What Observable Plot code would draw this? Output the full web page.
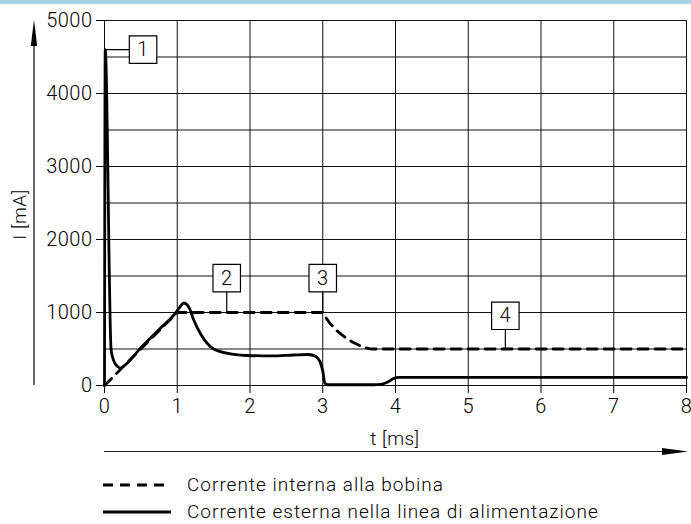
<!DOCTYPE html>
<html>
<head>
<meta charset="utf-8">
<script src="https://cdn.jsdelivr.net/npm/d3@7"></script>
<script src="https://cdn.jsdelivr.net/npm/@observablehq/plot@0.6"></script>
<style>
  html, body { margin: 0; padding: 0; background: white; }
  body { width: 691px; height: 524px; position: relative; overflow: hidden;
         font-family: Roboto, "DejaVu Sans", sans-serif; font-weight: 300; }
  #bar { height: 4px; background: #a9d3e6; }
  #legend { position: absolute; left: 103px; top: 471px; font-size: 19px; letter-spacing: 1px; color: #000; }
  .row { height: 27px; display: flex; align-items: center; }
  .row svg { margin-right: 16px; }
</style>
</head>
<body>
<div id="bar"></div>
<div id="chart"></div>
<div id="legend"></div>
<script>
// ---- data ----
const xTicks = [0, 1, 2, 3, 4, 5, 6, 7, 8];
const yTicks = [0, 1000, 2000, 3000, 4000, 5000];
const yGrid = [0, 500, 1000, 1500, 2000, 2500, 3000, 3500, 4000, 4500, 5000];

// dashed: internal coil current
const tInternal = [0, 1.0, 3.0, 3.05, 3.1, 3.2, 3.3, 3.4, 3.5, 3.6, 3.66, 8];
const iInternal = [0, 1000, 1000, 920, 850, 745, 665, 600, 550, 515, 500, 500];

// solid: external supply-line current
const tExternal = [0, 0.01, 0.09, 0.11, 0.14, 0.18, 0.22, 0.26, 0.5, 0.75, 0.98, 1.04, 1.09, 1.16, 1.23, 1.32, 1.5, 1.73, 1.98, 2.3, 2.6, 2.8, 2.9, 2.96, 3.0, 3.03, 3.07, 3.7, 3.8, 3.9, 3.97, 4.05, 8];
const iExternal = [0, 4600, 500, 390, 310, 260, 238, 262, 517, 767, 997, 1080, 1130, 1073, 890, 708, 500, 434, 411, 405, 418, 425, 400, 330, 200, 30, 10, 10, 15, 50, 95, 110, 110];

// callouts
const calloutLabels = ["1", "2", "3", "4"];
const calloutT = [0.53, 1.68, 3.0, 5.51];
const calloutI = [4600, 1470, 1470, 955];
const anchorT = [0.01, 1.68, 3.0, 5.51];
const anchorI = [4600, 1000, 1000, 500];

const seriesNames = ["Corrente interna alla bobina", "Corrente esterna nella linea di alimentazione"];
const xLabel = "t [ms]";
const yLabel = "I [mA]";

// ---- tables ----
const internal = tInternal.map((t, k) => ({t, i: iInternal[k]}));
const external = tExternal.map((t, k) => ({t, i: iExternal[k]}));
const callouts = calloutLabels.map((label, k) => ({label, t: calloutT[k], i: calloutI[k], at: anchorT[k], ai: anchorI[k]}));

const FONT = 'Roboto, "DejaVu Sans", sans-serif';

const plot = Plot.plot({
  width: 691,
  height: 456,
  marginTop: 16,
  marginBottom: 75,
  marginLeft: 104,
  marginRight: 5,
  style: {fontFamily: FONT, fontSize: "20px", fontWeight: 300, letterSpacing: "0.5px", background: "white", color: "black", overflow: "visible"},
  x: {domain: [0, 8]},
  y: {domain: [0, 5000]},
  marks: [
    Plot.gridX(xTicks, {stroke: "#111", strokeOpacity: 1, strokeWidth: 1}),
    Plot.gridY(yGrid, {stroke: "#111", strokeOpacity: 1, strokeWidth: 1}),
    Plot.axisX(xTicks, {tickSize: 8, tickPadding: 5, label: null, tickFormat: d => String(d), stroke: "#000"}),
    Plot.axisY(yTicks, {tickSize: 8, tickPadding: 4, label: null, tickFormat: d => String(d), stroke: "#000"}),
    Plot.line(internal, {x: "t", y: "i", stroke: "#000", strokeWidth: 2.8, strokeDasharray: "10,7"}),
    Plot.line(external, {x: "t", y: "i", stroke: "#000", strokeWidth: 2.8, curve: "monotone-x"}),
    Plot.link(callouts, {x1: "at", y1: "ai", x2: "t", y2: "i", stroke: "#000", strokeWidth: 1.2}),
    Plot.dot(callouts, {x: "t", y: "i", symbol: "square", r: 15.5, fill: "white", stroke: "#000", strokeWidth: 1.2}),
    Plot.text(callouts, {x: "t", y: "i", text: "label", fontSize: 20, fill: "#000"})
  ]
});
document.getElementById("chart").appendChild(plot);

// ---- axis arrows & labels (decorations positioned from the scales) ----
const sx = plot.scale("x"), sy = plot.scale("y");
const svg = d3.select(plot);
const x0 = sx.apply(0), x8 = sx.apply(8);
const y0 = sy.apply(0), y5 = sy.apply(5000);
const g = svg.append("g");
// y arrow
const ax = 34;
g.append("line").attr("x1", ax).attr("x2", ax).attr("y1", y0).attr("y2", y5 + 20).attr("stroke", "#000").attr("stroke-width", 1.2);
g.append("path").attr("d", `M${ax},${y5} L${ax - 3.2},${y5 + 26} L${ax + 3.2},${y5 + 26} Z`).attr("fill", "#000");
// y label
g.append("text").attr("transform", `translate(${19},${(y0 + y5) / 2 + 12}) rotate(-90)`)
  .attr("text-anchor", "middle").attr("dominant-baseline", "central")
  .attr("font-family", FONT).attr("font-weight", 300).attr("font-size", 19).attr("letter-spacing", "0.5px").text(yLabel);
// x label
g.append("text").attr("x", (x0 + x8) / 2).attr("y", y0 + 53)
  .attr("text-anchor", "middle").attr("dominant-baseline", "central")
  .attr("font-family", FONT).attr("font-weight", 300).attr("font-size", 19).attr("letter-spacing", "0.5px").text(xLabel);
// x arrow
const ay = y0 + 66.5;
g.append("line").attr("x1", x0).attr("x2", x8 - 20).attr("y1", ay).attr("y2", ay).attr("stroke", "#222").attr("stroke-width", 1.2);
g.append("path").attr("d", `M${x8 + 2},${ay} L${x8 - 24},${ay - 3.5} L${x8 - 24},${ay + 3.5} Z`).attr("fill", "#000");

// ---- legend (HTML below the svg) ----
const legend = d3.select("#legend");
const dashes = ["10,7", null];
seriesNames.forEach((name, k) => {
  const row = legend.append("div").attr("class", "row");
  const s = row.append("svg").attr("width", 68).attr("height", 6);
  const ln = s.append("line").attr("x1", 0).attr("x2", 68).attr("y1", 3).attr("y2", 3)
    .attr("stroke", "#000").attr("stroke-width", 2.8);
  if (dashes[k]) ln.attr("stroke-dasharray", dashes[k]);
  row.append("span").text(name);
});
</script>
</body>
</html>
